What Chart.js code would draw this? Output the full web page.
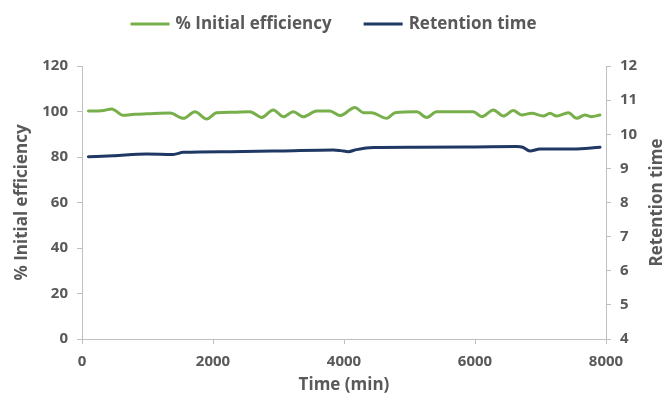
<!DOCTYPE html>
<html>
<head>
<meta charset="utf-8">
<title>Efficiency and retention time</title>
<script src="https://cdn.jsdelivr.net/npm/chart.js@4.4.0/dist/chart.umd.min.js"></script>
<style>
    html, body { margin: 0; padding: 0; background: #fff; }
    #wrap { width: 667px; height: 403px; }
</style>
</head>
<body>
<div id="wrap"><canvas id="myChart" width="667" height="403"></canvas></div>
<script>
    // % initial efficiency, sampled over time (min)
    var effTime = [97, 300, 453, 631, 800, 1000, 1344, 1547, 1725, 1903, 2056, 2300, 2565, 2743, 2921,
        3074, 3226, 3379, 3583, 3786, 3939, 4168, 4295, 4422, 4651, 4779, 5109, 5262, 5415, 5975,
        6102, 6280, 6433, 6585, 6712, 6865, 7043, 7145, 7247, 7425, 7552, 7679, 7781, 7908];
    var effValue = [100.2, 100.3, 101.1, 98.3, 98.8, 99.0, 99.3, 97.0, 99.9, 96.7, 99.5, 99.7, 99.9, 97.4, 100.7,
        97.7, 99.9, 97.7, 100.2, 100.2, 98.2, 101.8, 99.5, 99.5, 97.0, 99.5, 99.9, 97.4, 99.9, 99.9,
        97.7, 100.7, 98.0, 100.4, 98.5, 99.2, 98.0, 99.2, 98.0, 99.5, 97.0, 98.5, 97.7, 98.5];

    // retention time (right axis)
    var rtTime = [97, 478, 987, 1394, 1547, 2260, 3023, 3837, 3950, 4066, 4193, 4448, 5100, 6000,
        6636, 6728, 6839, 6992, 7500, 7908];
    var rtValue = [9.34, 9.37, 9.42, 9.41, 9.47, 9.49, 9.51, 9.54, 9.52, 9.49, 9.55, 9.61, 9.62, 9.63,
        9.64, 9.62, 9.51, 9.57, 9.57, 9.62];

    // axis ticks
    var xTicks = [0, 2000, 4000, 6000, 8000];
    var effTicks = [0, 20, 40, 60, 80, 100, 120];
    var rtTicks = [4, 5, 6, 7, 8, 9, 10, 11, 12];

    var GREEN = '#77AF4B';
    var NAVY = '#1F3864';
    var TEXT = '#595959';
    var AXIS = '#BFBFBF';
    var FAMILY = '"Open Sans", "Liberation Sans", sans-serif';
    var TITLE_FONT = 'bold 17px ' + FAMILY;

    function points(xs, ys) {
        return xs.map(function (x, i) { return { x: x, y: ys[i] }; });
    }

    function fixedTicks(list) {
        return function (scale) {
            scale.ticks = list.map(function (v) { return { value: v }; });
        };
    }

    function axisStyle() {
        return {
            border: { display: true, color: AXIS, width: 1 },
            grid: { drawOnChartArea: false, drawTicks: true, tickLength: 5, color: AXIS },
            ticks: {
                color: TEXT,
                padding: 9,
                font: { family: FAMILY, size: 15, weight: 'bold' },
                callback: function (v) { return String(v); }
            }
        };
    }

    function axisTitle(text, pad) {
        return {
            display: true,
            text: text,
            color: TEXT,
            font: { family: FAMILY, size: 17, weight: 'bold', lineHeight: 1 },
            padding: pad
        };
    }

    // legend drawn as short line segments, centred above the plot,
    // plus the right axis title which reads bottom-to-top like the left one
    var lineLegend = {
        id: 'lineLegend',
        afterDraw: function (chart) {
            var ctx = chart.ctx;
            var lineLen = 39, gap = 6, spacing = 32, y = 24;
            ctx.save();
            ctx.font = TITLE_FONT;
            var items = chart.data.datasets.map(function (ds) {
                return { text: ds.label, color: ds.borderColor, w: ctx.measureText(ds.label).width };
            });
            var total = 0;
            items.forEach(function (it, i) {
                total += lineLen + gap + it.w + (i ? spacing : 0);
            });
            var x = (chart.width - total) / 2;
            ctx.textBaseline = 'middle';
            ctx.textAlign = 'left';
            items.forEach(function (it) {
                ctx.strokeStyle = it.color;
                ctx.lineWidth = 3;
                ctx.beginPath();
                ctx.moveTo(x, y);
                ctx.lineTo(x + lineLen, y);
                ctx.stroke();
                ctx.fillStyle = TEXT;
                ctx.fillText(it.text, x + lineLen + gap, y);
                x += lineLen + gap + it.w + spacing;
            });

            var area = chart.chartArea;
            ctx.translate(chart.width - 10, (area.top + area.bottom) / 2);
            ctx.rotate(-Math.PI / 2);
            ctx.textAlign = 'center';
            ctx.fillStyle = TEXT;
            ctx.fillText('Retention time', 0, 0);
            ctx.restore();
        }
    };

    var xAxis = axisStyle();
    xAxis.type = 'linear';
    xAxis.min = 0;
    xAxis.max = 8000;
    xAxis.afterBuildTicks = fixedTicks(xTicks);
    xAxis.afterFit = function (scale) { scale.height = 64; };
    xAxis.title = axisTitle('Time (min)', { bottom: 9 });

    var yAxis = axisStyle();
    yAxis.position = 'left';
    yAxis.min = 0;
    yAxis.max = 120;
    yAxis.afterBuildTicks = fixedTicks(effTicks);
    yAxis.afterFit = function (scale) { scale.width = 82; };
    yAxis.title = axisTitle('% Initial efficiency', { top: 14 });

    var y2Axis = axisStyle();
    y2Axis.position = 'right';
    y2Axis.min = 4;
    y2Axis.max = 12;
    y2Axis.afterBuildTicks = fixedTicks(rtTicks);
    y2Axis.afterFit = function (scale) { scale.width = 61; };
    y2Axis.title = { display: false };

    var ctx = document.getElementById('myChart').getContext('2d');
    var myChart = new Chart(ctx, {
        type: 'line',
        data: {
            datasets: [
                {
                    label: '% Initial efficiency',
                    data: points(effTime, effValue),
                    borderColor: GREEN,
                    backgroundColor: GREEN,
                    borderWidth: 3,
                    pointRadius: 0,
                    cubicInterpolationMode: 'monotone',
                    borderCapStyle: 'round',
                    yAxisID: 'y'
                },
                {
                    label: 'Retention time',
                    data: points(rtTime, rtValue),
                    borderColor: NAVY,
                    backgroundColor: NAVY,
                    borderWidth: 3,
                    pointRadius: 0,
                    cubicInterpolationMode: 'monotone',
                    borderCapStyle: 'round',
                    yAxisID: 'y2'
                }
            ]
        },
        options: {
            responsive: false,
            animation: false,
            layout: { padding: { top: 66, left: 0, right: 0, bottom: 0 } },
            plugins: {
                legend: { display: false },
                tooltip: { enabled: false }
            },
            scales: { x: xAxis, y: yAxis, y2: y2Axis }
        },
        plugins: [lineLegend]
    });
</script>
</body>
</html>
